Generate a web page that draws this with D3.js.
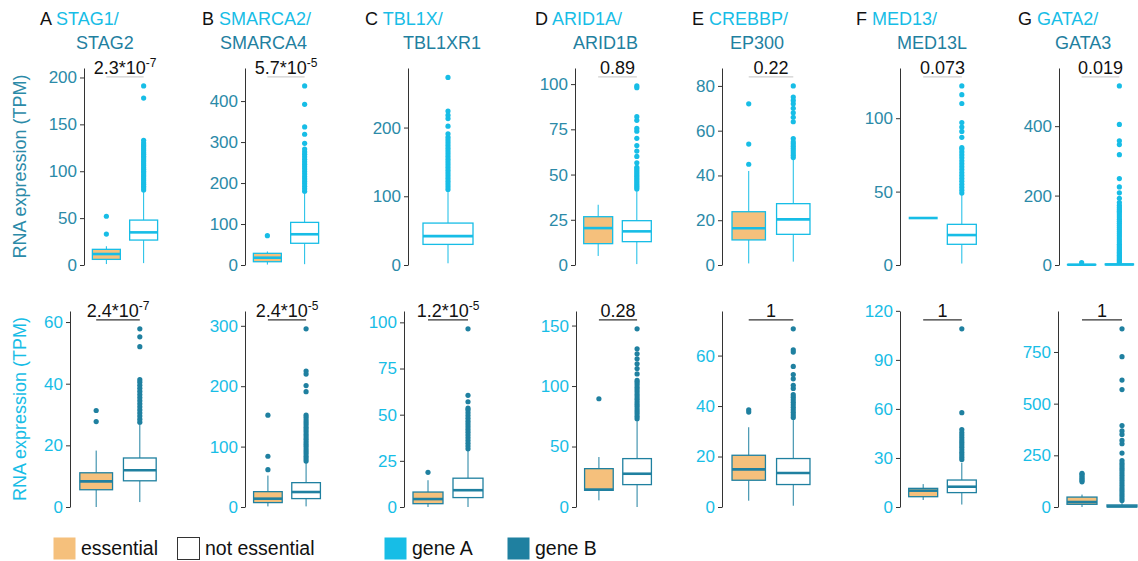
<!DOCTYPE html>
<html>
<head>
<meta charset="utf-8">
<script src="https://cdn.jsdelivr.net/npm/d3@7"></script>
<style>
body { margin: 0; background: #fff; }
text { font-family: "Liberation Sans", Arial, sans-serif; }
</style>
</head>
<body>
<svg id="chart" width="1138" height="561"></svg>
<script>
// panel letters and gene pairs
var letters = ["A", "B", "C", "D", "E", "F", "G"];
var geneA = ["STAG1", "SMARCA2", "TBL1X", "ARID1A", "CREBBP", "MED13", "GATA2"];
var geneB = ["STAG2", "SMARCA4", "TBL1XR1", "ARID1B", "EP300", "MED13L", "GATA3"];

// p-values (null = no test)
var pTop = ["2.3*10^-7", "5.7*10^-5", null, "0.89", "0.22", "0.073", "0.019"];
var pBottom = ["2.4*10^-7", "2.4*10^-5", "1.2*10^-5", "0.28", "1", "1", "1"];

// y tick labels
var ticksTop = [[0, 50, 100, 150, 200], [0, 100, 200, 300, 400], [0, 100, 200], [0, 25, 50, 75, 100],
                [0, 20, 40, 60, 80], [0, 50, 100], [0, 200, 400]];
var ticksBottom = [[0, 20, 40, 60], [0, 100, 200, 300], [0, 25, 50, 75, 100], [0, 50, 100, 150],
                   [0, 20, 40, 60], [0, 30, 60, 90, 120], [0, 250, 500, 750]];

// box stats [low whisker, q1, median, q3, high whisker]
// gene A (top row)
var topEss = [[1, 6, 11.7, 16.7, 20], [1, 8, 17.8, 28.5, 33], null, [5, 11.8, 20.4, 26.7, 33.3],
              [0.7, 11.2, 16.4, 23.8, 42], [32, 32, 32, 32, 32], [0, 0.3, 0.8, 1.5, 2.5]];
var topNot = [[2, 26.6, 34.8, 47.9, 78], [2, 53, 75, 104, 177], [2.5, 30, 42, 61, 107], [0.5, 12.9, 18.6, 24.5, 41],
              [1.5, 13.7, 20.4, 27.4, 47], [1, 14.1, 20.4, 27.7, 48.2], [0, 0.5, 1.5, 3, 7]];
var topEssOut = [[33, 52], [71.5], null, [], [45, 54, 72], [], [7]];
var topNotOut = [
  [80, 82, 84, 86, 88, 90, 92, 94, 96, 98, 100, 102, 104, 106, 108, 110, 112, 114, 116, 118, 120, 122, 124, 126, 128, 130, 133, 178, 191],
  [180, 186, 192, 198, 204, 210, 216, 222, 228, 234, 240, 246, 252, 258, 264, 270, 276, 283, 297, 319, 337, 392, 437],
  [110, 114, 118, 122, 126, 130, 134, 138, 142, 146, 150, 154, 158, 162, 166, 170, 174, 178, 182, 186, 191, 202, 213, 218, 224, 273],
  [42, 43, 44, 45, 46, 47, 48, 49, 50, 51, 52, 53, 54, 56.5, 60, 63, 66, 70, 74, 75.5, 80, 82, 98, 99],
  [48, 49, 50, 51, 52, 53, 54, 55, 56.5, 64, 66, 68, 70, 72, 73.5, 75, 80],
  [49, 51, 53, 55, 57, 59, 61, 63, 65, 67, 69, 71, 73, 75, 77, 79, 80, 87, 91, 94, 97, 110, 116, 122],
  [8, 12, 16, 20, 24, 28, 32, 36, 40, 45, 50, 55, 60, 66, 72, 78, 84, 90, 96, 102, 108, 114, 120, 126, 132, 138, 144, 150, 155, 160,
   166, 172, 180, 192, 208, 225, 249, 318, 347, 358, 405, 516]
];

// gene B (bottom row)
var botEss = [[0, 5.6, 8.3, 11.1, 18.3], [1, 7.3, 13.8, 25.4, 52], [0, 1.8, 4.3, 8.1, 14.5], [5.5, 13.8, 14.4, 31.7, 41.3],
              [2.5, 10.6, 14.9, 20.5, 31.6], [4.3, 6.3, 10, 11.4, 14], [0, 13, 24, 48, 60]];
var botNot = [[1.6, 8.5, 11.9, 15.9, 27], [1, 13.9, 24.8, 40.3, 74], [0, 5.1, 9.1, 15.6, 30.7], [0, 18.5, 27.5, 40, 71.6],
              [0.5, 8.9, 13.5, 19.2, 35], [1.5, 8.8, 12.4, 16.5, 27], [0, 0.5, 3, 10, 25]];
var botEssOut = [[27.7, 31.3], [61.8, 84, 152], [18.8], [89.5], [37.6, 38.5], [], [122, 128, 135, 142, 150, 158, 163]];
var botNotOut = [
  [27.5, 28.5, 29.5, 30.5, 31.5, 32.5, 33.5, 34.5, 35.5, 36.5, 37.5, 38.5, 39.5, 40.5, 41.3, 52, 55.2, 57.8],
  [76, 80, 84, 88, 92, 96, 100, 104, 108, 112, 116, 120, 124, 128, 132, 136, 140, 144, 148, 152, 191, 201, 220, 225, 295],
  [31.5, 33, 34.5, 36, 37.5, 39, 40.5, 42, 43.5, 45, 46.5, 48, 49.5, 51, 52.5, 53.5, 57, 60.5, 96.5],
  [73, 75, 77, 79, 81, 83, 85, 87, 89, 91, 93, 95, 97, 99, 101, 103, 104.6, 110, 114.5, 118.4, 122.5, 126.6, 130.8, 147.3],
  [35.5, 36.5, 37.5, 38.5, 39.5, 40.5, 41.5, 42.5, 43.5, 44.5, 47, 48.2, 50.8, 52.5, 55.7, 61.4, 62.3, 70.6],
  [29, 30.5, 32, 33.5, 35, 36.5, 38, 39.5, 41, 42.5, 44, 45.5, 47.4, 57.7, 109],
  [32, 44, 56, 68, 80, 92, 104, 116, 128, 140, 152, 164, 176, 188, 200, 212, 225, 261, 306, 322, 351, 368, 394, 568, 614, 727, 862]
];

// layout (pixel positions of each plot area)
var topX = [[84, 166], [245, 327], [408, 488], [575, 660], [722, 820], [900, 985], [1059, 1142]];
var botX = [[70, 166], [245, 329], [404, 492], [576, 660], [722, 820], [900, 985], [1058, 1146]];
var titleX = [[40, 76], [202, 220], [365, 403], [535, 573], [692, 730], [856, 897], [1018, 1055]];
var rowY = {top: [265, 68], bottom: [507, 311]};

var lightBlue = "#17bde6";
var teal = "#1f80a0";
var orange = "#f5c07c";

var svg = d3.select("#chart");

function drawPanel(i, row) {
  var isTop = row == "top";
  var col = isTop ? lightBlue : teal;
  var tickCol = isTop ? "#2b8aa8" : lightBlue;
  var ess = isTop ? topEss[i] : botEss[i];
  var not = isTop ? topNot[i] : botNot[i];
  var essOut = isTop ? topEssOut[i] : botEssOut[i];
  var notOut = isTop ? topNotOut[i] : botNotOut[i];
  var p = isTop ? pTop[i] : pBottom[i];
  var ticks = isTop ? ticksTop[i] : ticksBottom[i];
  var px = isTop ? topX[i] : botX[i];
  var py = rowY[row];

  var groups = [];
  if (ess) groups.push({stats: ess, out: essOut, fill: orange});
  groups.push({stats: not, out: notOut, fill: "#fff"});

  var allVals = [];
  groups.forEach(function(g) { allVals = allVals.concat(g.stats, g.out); });
  var maxVal = d3.max(allVals);

  var y = d3.scaleLinear().domain([0, maxVal * (p ? 1.1 : 1.05)]).range(py);
  var x = d3.scaleLinear().domain([0.4, groups.length + 0.6]).range(px);
  var bw = x(1.375) - x(1);

  var g = svg.append("g");

  var axis = g.append("g")
    .attr("transform", "translate(" + px[0] + ",0)")
    .call(d3.axisLeft(y).tickValues(ticks).tickSize(4).tickSizeOuter(0).tickPadding(3));
  axis.select(".domain").attr("stroke", "#333");
  axis.selectAll(".tick line").attr("stroke", "#333");
  axis.selectAll(".tick text")
    .attr("fill", tickCol)
    .style("font-size", "17px")
    .style("font-family", "'Liberation Sans', Arial, sans-serif");

  groups.forEach(function(gr, k) {
    var cx = x(k + 1);
    var s = gr.stats;
    g.append("line").attr("x1", cx).attr("x2", cx).attr("y1", y(s[0])).attr("y2", y(s[1]))
      .attr("stroke", col).attr("stroke-width", 1);
    g.append("line").attr("x1", cx).attr("x2", cx).attr("y1", y(s[3])).attr("y2", y(s[4]))
      .attr("stroke", col).attr("stroke-width", 1);
    g.append("rect").attr("x", cx - bw).attr("width", bw * 2)
      .attr("y", y(s[3])).attr("height", Math.max(0, y(s[1]) - y(s[3])))
      .attr("fill", gr.fill).attr("stroke", col).attr("stroke-width", 1.3);
    g.append("line").attr("x1", cx - bw).attr("x2", cx + bw).attr("y1", y(s[2])).attr("y2", y(s[2]))
      .attr("stroke", col).attr("stroke-width", 2.6);
    g.selectAll(null).data(gr.out).enter().append("circle")
      .attr("cx", cx).attr("cy", function(d) { return y(d); })
      .attr("r", 2.6).attr("fill", col);
  });

  if (p) {
    var by = y(maxVal * 1.05);
    var xa = x(1), xb = x(2);
    g.append("line").attr("x1", xa).attr("x2", xb).attr("y1", by).attr("y2", by)
      .attr("stroke", isTop ? "#cfcfcf" : "#333").attr("stroke-width", 1.2);
    var parts = p.split("^");
    var t = g.append("text").attr("x", (xa + xb) / 2).attr("y", by - 3)
      .attr("text-anchor", "middle").style("font-size", "18px").attr("fill", "#111");
    t.append("tspan").text(parts[0]);
    if (parts[1]) {
      t.append("tspan").attr("dy", -7).style("font-size", "12px").text(parts[1]);
    }
  }
}

for (var i = 0; i < letters.length; i++) {
  drawPanel(i, "top");
  drawPanel(i, "bottom");

  var t1 = svg.append("text").attr("x", titleX[i][0]).attr("y", 25).style("font-size", "18px");
  t1.append("tspan").attr("fill", "#111").text(letters[i] + " ");
  t1.append("tspan").attr("fill", lightBlue).text(geneA[i] + "/");
  svg.append("text").attr("x", titleX[i][1]).attr("y", 49).style("font-size", "18px")
    .attr("fill", teal).text(geneB[i]);
}

// y axis titles
[["top", "#2b8aa8"], ["bottom", lightBlue]].forEach(function(r) {
  var py = rowY[r[0]];
  svg.append("text")
    .attr("transform", "translate(26," + (py[0] + py[1]) / 2 + ") rotate(-90)")
    .attr("text-anchor", "middle").style("font-size", "18px").attr("fill", r[1])
    .text("RNA expression (TPM)");
});

// legend
var legend = [
  {label: "essential", fill: orange, stroke: "none", x: 53},
  {label: "not essential", fill: "#fff", stroke: "#333", x: 177},
  {label: "gene A", fill: lightBlue, stroke: "none", x: 384},
  {label: "gene B", fill: teal, stroke: "none", x: 507}
];
var lg = svg.append("g").selectAll("g").data(legend).enter().append("g")
  .attr("transform", function(d) { return "translate(" + d.x + ",537)"; });
lg.append("rect").attr("x", 0.5).attr("y", 0.5).attr("width", 22).attr("height", 22)
  .attr("fill", function(d) { return d.fill; })
  .attr("stroke", function(d) { return d.stroke; });
lg.append("text").attr("x", 28).attr("y", 18).style("font-size", "19.5px").attr("fill", "#111")
  .text(function(d) { return d.label; });
</script>
</body>
</html>
